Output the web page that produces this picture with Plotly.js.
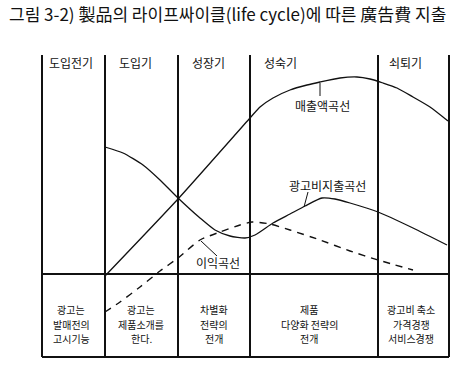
<!DOCTYPE html>
<html>
<head>
<meta charset="utf-8">
<script src="https://cdn.plot.ly/plotly-3.0.1.min.js"></script>
<style>html,body{margin:0;padding:0;background:#fff;}#chart{width:466px;height:372px;}</style>
</head>
<body>
<div id="chart"></div>
<script>
// Phase boundaries (time units) and labels
const phaseBounds = [0, 6.3, 13.6, 20.8, 33.6, 40.7];
const phaseLabels = ["도입전기", "도입기", "성장기", "성숙기", "쇠퇴기"];
const phaseLabelX = [0.5, 7.5, 14.8, 22.0, 34.5];

// Sales curve (매출액곡선)
const salesX = [6.3, 13.6, 20.8, 21.8, 23.1, 24.8, 26.5, 27.8, 29.8, 31.5, 32.8, 34.1, 35.5, 37.1, 38.8, 40.6];
const salesY = [-0.2, 7.5, 15.6, 16.7, 17.6, 18.4, 18.9, 19.2, 19.6, 19.7, 19.5, 19.1, 18.6, 17.7, 16.7, 15.3];

// Advertising expense curve (광고비지출곡선)
const adX = [6.3, 8.1, 10.1, 11.8, 13.6, 15.8, 17.3, 18.8, 20.3, 21.3, 23.1, 24.8, 26.3, 28.0, 29.3, 30.8, 33.6, 37.1, 40.5];
const adY = [12.7, 12.1, 10.9, 9.4, 7.6, 5.6, 4.4, 3.8, 3.6, 3.9, 5.1, 6.0, 6.8, 7.6, 7.5, 7.1, 6.2, 4.6, 2.9];

// Profit curve (이익곡선)
const profitX = [6.3, 7.8, 9.8, 11.8, 13.6, 15.8, 17.8, 19.8, 21.0, 22.8, 24.8, 27.8, 30.8, 33.6, 37.1];
const profitY = [-3.8, -2.8, -1.3, 0.3, 1.6, 3.4, 4.2, 4.9, 5.2, 5.0, 4.4, 3.4, 2.3, 1.4, 0.4];

// Advertising role per phase (bottom table)
const roleText = [
  ["광고는", "발매전의", "고시기능"],
  ["광고는", "제품소개를", "한다."],
  ["차별화", "전략의", "전개"],
  ["제품", "다양화 전략의", "전개"],
  ["광고비 축소", "가격경쟁", "서비스경쟁"]
];
const roleX = [2.9, 9.9, 17.2, 26.7, 36.9];
const roleLineY = [-3.55, -5.0, -6.45];

const curveLabels = ["매출액곡선", "광고비지출곡선", "이익곡선"];
const curveLabelX = [28.0, 28.5, 17.6];
const curveLabelY = [16.9, 8.9, 1.2];

const topY = 21.9, axisY = 0, bottomY = -8.3;

const FONT = '"Noto Sans CJK KR", "Noto Sans", sans-serif';
const INK = '#111';

const traces = [
  {x: salesX, y: salesY, mode: 'lines', line: {color: INK, width: 1.3, shape: 'spline', smoothing: 0.6}, hoverinfo: 'skip'},
  {x: adX, y: adY, mode: 'lines', line: {color: INK, width: 1.3, shape: 'spline', smoothing: 0.6}, hoverinfo: 'skip'},
  {x: profitX, y: profitY, mode: 'lines', line: {color: INK, width: 1.4, shape: 'spline', smoothing: 0.6, dash: '7px,6px'}, hoverinfo: 'skip'}
];

const shapes = [];
phaseBounds.forEach(b => {
  shapes.push({type: 'line', xref: 'x', yref: 'y', x0: b, x1: b, y0: bottomY, y1: topY, line: {color: INK, width: 2}});
});
shapes.push({type: 'line', xref: 'x', yref: 'y', x0: phaseBounds[0], x1: phaseBounds[5], y0: axisY, y1: axisY, line: {color: INK, width: 2}});
shapes.push({type: 'line', xref: 'x', yref: 'y', x0: phaseBounds[0], x1: phaseBounds[5], y0: bottomY, y1: bottomY, line: {color: INK, width: 2}});
// leader lines
shapes.push({type: 'line', xref: 'x', yref: 'y', x0: 27.8, x1: 27.8, y0: 19.1, y1: 17.8, line: {color: INK, width: 1}});
shapes.push({type: 'line', xref: 'x', yref: 'y', x0: 26.6, x1: 26.2, y0: 8.2, y1: 6.7, line: {color: INK, width: 1}});
shapes.push({type: 'line', xref: 'x', yref: 'y', x0: 15.9, x1: 17.5, y0: 3.3, y1: 1.8, line: {color: INK, width: 1}});

const annotations = [];
phaseLabels.forEach((t, i) => {
  annotations.push({x: phaseLabelX[i], y: 21.2, xref: 'x', yref: 'y', text: t, showarrow: false, xanchor: 'left', yanchor: 'middle', font: {family: FONT, size: 12, color: INK}});
});
curveLabels.forEach((t, i) => {
  annotations.push({x: curveLabelX[i], y: curveLabelY[i], xref: 'x', yref: 'y', text: t, showarrow: false, xanchor: 'center', yanchor: 'middle', font: {family: FONT, size: 12, color: INK}});
});
roleText.forEach((lines, i) => {
  lines.forEach((t, j) => {
    annotations.push({x: roleX[i], y: roleLineY[j], xref: 'x', yref: 'y', text: t, showarrow: false, xanchor: 'center', yanchor: 'middle', borderpad: 0, font: {family: FONT, size: 10, color: INK}});
  });
});

const layout = {
  width: 466, height: 372,
  margin: {l: 0, r: 0, t: 0, b: 0},
  paper_bgcolor: '#fff', plot_bgcolor: '#fff',
  showlegend: false,
  title: {text: '그림 3-2) 製品의 라이프싸이클(life cycle)에 따른 廣告費 지출', x: 9/466, xanchor: 'left', xref: 'paper', y: 1 - 15/372, yref: 'container', yanchor: 'middle', font: {family: FONT, size: 17, color: INK}},
  xaxis: {range: [-4.2, 42.4], visible: false, fixedrange: true},
  yaxis: {range: [-9.8, 27.4], visible: false, fixedrange: true},
  shapes: shapes,
  annotations: annotations
};

Plotly.newPlot('chart', traces, layout, {displayModeBar: false, staticPlot: true});
</script>
</body>
</html>
